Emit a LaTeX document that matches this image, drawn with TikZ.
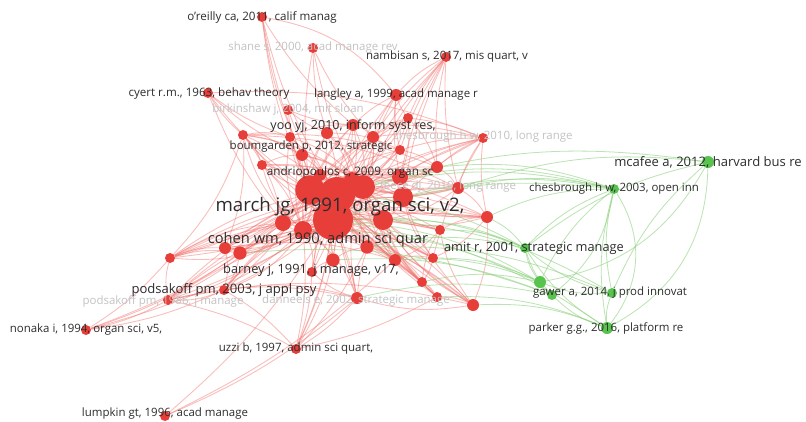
\documentclass[tikz,border=0pt]{standalone}
\usepackage{fontspec}
\setmainfont{Open Sans}
\usetikzlibrary{backgrounds}
\definecolor{vred}{RGB}{232,62,58}
\definecolor{vgreen}{RGB}{88,196,78}
\definecolor{redge}{RGB}{242,110,105}
\definecolor{gedge}{RGB}{140,210,125}
\definecolor{lbltxt}{RGB}{45,45,45}
\definecolor{faint}{RGB}{195,195,195}
\tikzset{
 rn/.style={circle, fill=vred, inner sep=0pt, minimum size=#1pt},
 gn/.style={circle, fill=vgreen, inner sep=0pt, minimum size=#1pt},
 rline/.style={draw=redge, line width=0.65pt, opacity=0.45},
 gline/.style={draw=gedge, line width=0.6pt, opacity=0.6},
 lbl/.style={text=lbltxt, inner sep=0pt, font=\fontsize{#1}{#1}\selectfont},
 flbl/.style={text=faint, inner sep=0pt, font=\fontsize{#1}{#1}\selectfont},
}
\begin{document}
\begin{tikzpicture}[x=0.75pt,y=-0.75pt]
\useasboundingbox (0,0) rectangle (806,421);
% core nodes
\foreach \n/\x/\y/\d in {c1/310/190/22, c2/337/195/27, c3/333/220/30, c4/363/187/18, c5/403/197/15, c6/383/220/15, c7/303/230/13.5, c8/283/223/12, c9/352/180/12, c10/400/177/12}
  \node[rn=\d] (\n) at (\x,\y) {};
% mid nodes
\foreach \n/\x/\y/\d in {m1/373/137/9, m2/353/125/9, m3/327/133/9, m4/290/137/7.5, m5/243/135/7.5, m6/302/155/9, m7/408/118/7.5, m8/437/167/9, m9/458/188/9, m10/487/217/9, m11/400/150/7.5, m12/367/247/10, m13/333/260/10, m14/395/260/9, m15/433/258/7.5, m16/312/272/7.5, m17/225/248/9, m18/240/253/10, m19/262/165/7.5, m20/422/282/7.5, m21/357/298/9, m22/437/297/7.5, m23/473/305/9, m24/224/290/7.5, m25/170/258/7.5, m26/168/300/7.5, m27/320/175/9, m28/440/230/7.5}
  \node[rn=\d] (\n) at (\x,\y) {};
% peripheral red nodes
\foreach \n/\x/\y/\d in {p1/262/17/7.5, p2/313/48/7.5, p3/446/57/7.5, p4/208/93/7.5, p5/396/95/9, p6/288/110/7.5, p7/483/138/7.5, p8/86/330/7.5, p9/296/349/7.5, p10/165/416/7.5}
  \node[rn=\d] (\n) at (\x,\y) {};
% green nodes
\foreach \n/\x/\y/\d in {g1/708/162/9, g2/614/189/7.5, g3/525/248/7.5, g4/540/282/9, g5/552/295/7.5, g6/612/293/7.5, g7/607/328/9}
  \node[gn=\d] (\n) at (\x,\y) {};

\begin{pgfonlayer}{background}
\fill[white] (0,0) rectangle (806,421);
\foreach \a/\b in {c1/c2,c1/c3,c1/c4,c1/c5,c1/c6,c1/c7,c1/c8,c1/c9,c1/c10,c2/c3,c2/c4,c2/c5,c2/c6,c2/c7,c2/c8,c2/c9,c2/c10,c3/c4,c3/c5,c3/c6,c3/c7,c3/c8,c3/c9,c3/c10,c4/c5,c4/c6,c4/c9,c4/c10,c5/c6,c5/c10,c6/c7,c7/c8,c9/c10}
  \draw[rline] (\a) to[bend left=15] (\b);
\foreach \m in {m1,m2,m3,m4,m5,m6,m7,m8,m9,m10,m11,m12,m13,m14,m15,m16,m17,m18,m19,m20,m21,m22,m23,m24,m25,m26,m27,m28}{
  \draw[rline] (\m) to[bend right=10] (c1);
  \draw[rline] (\m) to[bend left=8] (c2);
  \draw[rline] (\m) to[bend right=6] (c3);
  \draw[rline] (\m) to[bend left=14] (c4);
  \draw[rline] (\m) to[bend right=16] (c7);
}
\foreach \a/\b in {m5/m17,m5/m25,m4/m6,m3/m2,m2/m1,m1/m7,m7/m8,m8/m9,m9/m10,m10/m15,m15/m20,m20/m22,m22/m23,m23/m21,m21/m16,m16/m13,m13/m12,m12/m14,m14/m15,m17/m18,m18/m24,m24/m26,m26/m25,m25/m17,m19/m6,m27/m9,m11/m8,m28/m10,m28/m14,m5/m6,m4/m2,m3/m11,m11/m1,m25/c8,m26/c3,m24/c7,m23/c6,m10/c5,m8/c10,m17/c8,m18/c7,m7/c10,m5/c8,m19/c7,m25/c6,m26/c6,m9/c6,m10/c6,m23/c5,m22/c6,m1/c4,m2/c9,m3/c9,m6/c9,m20/c6,m21/c6,m15/c5,m14/c6,m17/m24,m25/m18,m5/m4,m5/m19,m23/m28,m10/m23,m20/m28,m25/m10,m26/m23,m5/m8,m17/m14,m24/m21,m26/m21,m25/m9,m5/m9,m19/m10}
  \draw[rline] (\a) to[bend left=12] (\b);
\foreach \a/\b in {p1/c2,p1/c3,p1/m6,p1/m2,p1/c1,p2/c1,p2/m1,p2/c4,p2/m3,p3/m7,p3/m1,p3/c5,p3/c10,p3/m8,p3/m9,p3/c3,p3/c4,p3/m11,p4/m5,p4/m4,p4/c1,p4/c8,p4/m6,p5/m1,p5/m2,p5/c4,p5/c10,p5/m7,p5/c2,p5/m11,p6/m2,p6/m3,p6/c2,p6/c1,p7/m8,p7/m9,p7/c5,p7/c10,p7/m10,p7/m7,p7/c3,p7/c4,p7/m1,p7/m15,p7/m2,p7/m11,p7/c2,p8/m26,p8/m25,p8/c3,p8/m18,p8/c8,p8/m24,p9/m21,p9/c3,p9/m16,p9/m13,p9/m24,p9/m26,p9/m22,p9/c7,p9/m12,p9/c2,p10/m21,p10/c3,p10/m14}
  \draw[rline] (\a) to[bend right=8] (\b);
\draw[rline] (p1) to[bend left=20] (p5);
\draw[rline] (p3) to[bend right=10] (p5);
\draw[rline] (p4) to[bend left=12] (p7);
\foreach \a/\b in {g2/g3,g2/g4,g2/g6,g2/g7,g1/g6,g1/g3,g3/g4,g3/g5,g3/g6,g3/g7,g4/g5,g4/g6,g5/g7,g6/g7,g2/c5,g2/c10,g2/m8,g2/m9,g2/c3,g3/c3,g3/c6,g3/m12,g3/m10,g4/c3,g4/m14,g4/m15,g5/m21,g5/m13,g6/c6,g7/m23,g7/m22,g1/m9,g1/c4,g7/c3,g4/c7,g5/m18,g3/c2,g3/m28,g4/m20,g6/m12,g2/c4,g2/m10}
  \draw[gline] (\a) to[bend right=12] (\b);
\draw[gline] (g7) to[bend right=35] (g2);
\draw[gline] (g7) to[bend right=30] (g1);
\draw[gline] (g4) to[bend right=25] (g1);
\draw[gline] (g5) to[bend right=20] (g2);
\end{pgfonlayer}

% labels
\node[flbl=8.6] (t2) at (313,48) {shane s, 2000, acad manage rev};
\node[flbl=8.6] (t6) at (288,110) {birkinshaw j, 2004, mit sloan};
\node[flbl=8.6] (t7) at (483,137) {chesbrough h w, 2010, long range};
\node[flbl=8.6] (t9) at (448,187) {teece dj, 2010, long range};
\node[flbl=8.6] (t15) at (163,301) {podsakoff pm, 1986, j manage};
\node[flbl=8.6] (t16) at (356,301) {danneels e, 2002, strategic manage};
\node[lbl=8.7] (t1) at (262,17) {o'reilly ca, 2011, calif manag};
\node[lbl=8.6] (t3) at (447,57) {nambisan s, 2017, mis quart, v};
\node[lbl=8.7] (t4) at (209,93) {cyert r.m., 1963, behav theory};
\node[lbl=8.6] (t5) at (396,95) {langley a, 1999, acad manage r};
\node[lbl=9.4] (t8) at (353,126) {yoo yj, 2010, inform syst res,};
\node[lbl=8.6] (t10) at (311,147) {boumgarden p, 2012, strategic};
\node[lbl=8.8] (t11) at (350,172) {andriopoulos c, 2009, organ sc};
\node[lbl=14] (t12) at (340,207) {march jg, 1991, organ sci, v2,};
\node[lbl=11] (t13) at (318,240) {cohen wm, 1990, admin sci quar};
\node[lbl=9.6] (t14) at (311,270) {barney j, 1991, j manage, v17,};
\node[lbl=9.8] (t17) at (224,290) {podsakoff pm, 2003, j appl psy};
\node[lbl=9.6] (t18) at (534,248) {amit r, 2001, strategic manage};
\node[lbl=9.8] (t19) at (708,162) {mcafee a, 2012, harvard bus re};
\node[lbl=8.6] (t20) at (614,189) {chesbrough h w, 2003, open inn};
\node[lbl=8.6] (t21) at (610,293) {gawer a, 2014, j prod innovat};
\node[lbl=8.6] (t22) at (606,328) {parker g.g., 2016, platform re};
\node[lbl=8.6] (t23) at (86,330) {nonaka i, 1994, organ sci, v5,};
\node[lbl=8.6] (t24) at (296,349) {uzzi b, 1997, admin sci quart,};
\node[lbl=8.6] (t25) at (165,414) {lumpkin gt, 1996, acad manage};
\end{tikzpicture}
\end{document}
